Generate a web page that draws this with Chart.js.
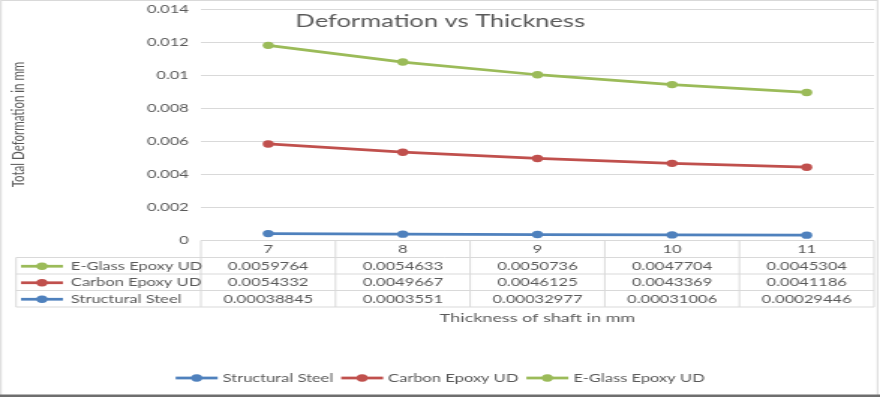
<!DOCTYPE html>
<html>
<head>
<meta charset="utf-8">
<title>Deformation vs Thickness</title>
<script src="https://cdn.jsdelivr.net/npm/chart.js@4/dist/chart.umd.min.js"></script>
<style>
  html, body { margin: 0; padding: 0; background: #fff; overflow: hidden; }
</style>
</head>
<body>
<!-- the original picture is an Excel chart stretched sideways ~1.5x, so the canvas is drawn narrow and stretched by css -->
<canvas id="deformChart" width="587" height="397" style="width:880px;height:397px"></canvas>
<script>
const thickness = ['7', '8', '9', '10', '11'];
const structuralSteel = [0.00038845, 0.0003551, 0.00032977, 0.00031006, 0.00029446];
const carbonEpoxy = [0.0054332, 0.0049667, 0.0046125, 0.0043369, 0.0041186];
const eGlassEpoxy = [0.0059764, 0.0054633, 0.0050736, 0.0047704, 0.0045304];
const yTickLabels = ['0', '0.002', '0.004', '0.006', '0.008', '0.01', '0.012', '0.014'];

const FONT = 'Lato, "Open Sans", sans-serif';
const TEXT = '#595959';
const GRID = '#d9d9d9';

function series(label, data, color) {
    return {
        label: label,
        data: data,
        borderColor: color,
        backgroundColor: color,
        borderWidth: 2.75,
        pointRadius: 3.7,
        pointBorderWidth: 0,
        pointBackgroundColor: color,
        fill: false,
        tension: 0
    };
}

// stacked lines, as in the original Excel chart
const datasets = [
    series('Structural Steel', structuralSteel, '#4f81bd'),
    series('Carbon Epoxy UD', carbonEpoxy, '#c0504d'),
    series('E-Glass Epoxy UD', eGlassEpoxy, '#9bbb59')
];

function legendKey(ctx, x, y, color) {
    ctx.strokeStyle = color;
    ctx.lineWidth = 2.75;
    ctx.beginPath();
    ctx.moveTo(x, y);
    ctx.lineTo(x + 28, y);
    ctx.stroke();
    ctx.fillStyle = color;
    ctx.beginPath();
    ctx.arc(x + 14, y, 3.7, 0, Math.PI * 2);
    ctx.fill();
}

function textMid(ctx, str, cx, y) {
    const w = ctx.measureText(str).width;
    ctx.textAlign = 'left';
    ctx.fillText(str, cx - w / 2, y);
}

// title, data table, axis titles, legend and frame
const extras = {
    id: 'extras',
    afterDraw(chart) {
        const ctx = chart.ctx;
        const area = chart.chartArea;
        const xs = chart.scales.x;
        const rows = [240.5, 257.5, 274, 290.5, 307];
        const tableLeft = 10.7;
        ctx.save();

        // frame
        ctx.strokeStyle = GRID;
        ctx.lineWidth = 1;
        ctx.strokeRect(0.7, 0.5, 584.6, 396);
        ctx.fillStyle = '#6e6e6e';
        ctx.fillRect(0, 394.5, chart.width, 2.5);

        // table lines
        ctx.strokeStyle = GRID;
        ctx.beginPath();
        ctx.moveTo(area.left, rows[0]);
        ctx.lineTo(area.right, rows[0]);
        for (let r = 1; r < rows.length; r++) {
            ctx.moveTo(tableLeft, rows[r]);
            ctx.lineTo(area.right, rows[r]);
        }
        ctx.moveTo(tableLeft, rows[1]);
        ctx.lineTo(tableLeft, rows[4]);
        const bounds = [area.left];
        for (let i = 1; i < thickness.length; i++) {
            bounds.push((xs.getPixelForValue(i - 1) + xs.getPixelForValue(i)) / 2);
        }
        bounds.push(area.right);
        bounds.forEach(b => {
            ctx.moveTo(b, rows[0]);
            ctx.lineTo(b, rows[4]);
        });
        ctx.stroke();

        // table text
        ctx.fillStyle = TEXT;
        ctx.font = '11px ' + FONT;
        ctx.textBaseline = 'middle';
        thickness.forEach((t, i) => textMid(ctx, t, xs.getPixelForValue(i), (rows[0] + rows[1]) / 2 + 0.5));
        const tableOrder = datasets.slice().reverse();
        tableOrder.forEach((ds, r) => {
            const cy = (rows[r + 1] + rows[r + 2]) / 2 + 0.5;
            legendKey(ctx, 14, cy, ds.borderColor);
            ctx.fillStyle = TEXT;
            ctx.textAlign = 'left';
            ctx.fillText(ds.label, 47.3, cy);
            ds.data.forEach((v, i) => textMid(ctx, String(v), xs.getPixelForValue(i), cy));
        });

        // chart title
        ctx.textBaseline = 'alphabetic';
        ctx.font = '17px ' + FONT;
        textMid(ctx, 'Deformation vs Thickness', 293.7, 27);

        // x axis title
        ctx.font = '12px ' + FONT;
        textMid(ctx, 'Thickness of shaft in mm', (area.left + area.right) / 2, 321.5);

        // y axis title
        ctx.save();
        ctx.translate(12, (area.top + area.bottom) / 2);
        ctx.rotate(-Math.PI / 2);
        ctx.textBaseline = 'middle';
        ctx.font = '11.5px ' + FONT;
        textMid(ctx, 'Total Deformation in mm', 0, 0);
        ctx.restore();

        // legend
        ctx.font = '11px ' + FONT;
        ctx.textAlign = 'left';
        ctx.textBaseline = 'middle';
        const keyW = 28, gap = 3.3, itemGap = 5.3;
        const widths = datasets.map(ds => keyW + gap + ctx.measureText(ds.label).width);
        const total = widths.reduce((a, b) => a + b, 0) + itemGap * (datasets.length - 1);
        let lx = 293.6 - total / 2;
        const ly = 378;
        datasets.forEach((ds, i) => {
            legendKey(ctx, lx, ly, ds.borderColor);
            ctx.fillStyle = TEXT;
            ctx.fillText(ds.label, lx + keyW + gap, ly);
            lx += widths[i] + itemGap;
        });

        ctx.restore();
    }
};

const ctx = document.getElementById('deformChart').getContext('2d');

const deformChart = new Chart(ctx, {
    type: 'line',
    data: {
        labels: thickness,
        datasets: datasets
    },
    options: {
        responsive: false,
        animation: false,
        devicePixelRatio: 1,
        layout: { padding: { top: 9, right: 4, left: 0, bottom: 0 } },
        plugins: {
            legend: { display: false },
            tooltip: { enabled: false },
            title: { display: false }
        },
        scales: {
            x: {
                offset: true,
                grid: { display: false },
                border: { display: false },
                ticks: { display: false },
                afterFit(scale) { scale.height = 397 - 240; }
            },
            y: {
                stacked: true,
                min: 0,
                max: 0.014,
                ticks: {
                    stepSize: 0.002,
                    padding: 8,
                    color: TEXT,
                    font: { family: FONT, size: 11 },
                    callback: (v, i) => yTickLabels[i]
                },
                grid: { color: GRID, lineWidth: 1, drawTicks: false },
                border: { display: false },
                afterFit(scale) {
                    scale.width = 134;
                    scale.paddingTop = 0;
                    scale.paddingBottom = 0;
                }
            }
        }
    },
    plugins: [extras]
});
</script>
</body>
</html>
